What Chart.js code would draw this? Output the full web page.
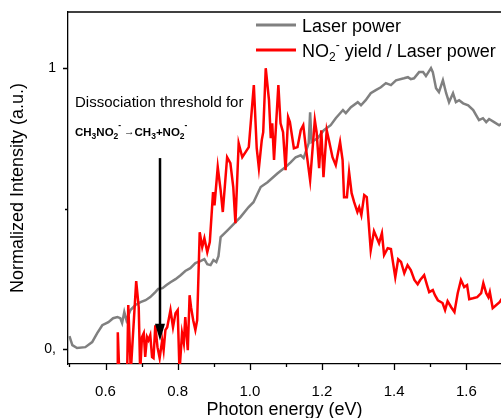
<!DOCTYPE html>
<html>
<head>
<meta charset="utf-8">
<script src="https://cdn.jsdelivr.net/npm/chart.js@4"></script>
<style>
  html, body { margin: 0; padding: 0; background: #fff; }
  canvas { display: block; }
</style>
</head>
<body>
<canvas id="chart" width="501" height="418"></canvas>
<script>
// Laser power (grey)
const laserEnergy = [0.500,0.508,0.521,0.544,0.563,0.577,0.591,0.608,0.621,0.633,
  0.641,0.646,0.652,0.658,0.669,0.683,0.697,0.711,0.724,0.738,
  0.746,0.758,0.769,0.780,0.794,0.808,0.821,0.835,0.849,0.863,
  0.874,0.882,0.891,0.899,0.907,0.913,0.919,0.938,0.955,0.974,
  0.996,1.010,1.030,1.049,1.077,1.099,1.113,1.127,1.141,1.149,
  1.163,1.167,1.171,1.188,1.205,1.224,1.238,1.258,1.266,1.280,
  1.299,1.308,1.321,1.335,1.349,1.363,1.377,1.391,1.405,1.427,
  1.438,1.446,1.455,1.469,1.480,1.488,1.502,1.507,1.516,1.524,
  1.535,1.544,1.552,1.563,1.571,1.580,1.591,1.605,1.619,1.627,
  1.635,1.646,1.655,1.663,1.677,1.691,1.699];
const laserPower = [0.046,0.014,0.004,0.007,0.025,0.057,0.085,0.096,0.110,0.114,
  0.110,0.093,0.132,0.103,0.139,0.157,0.167,0.174,0.185,0.203,
  0.214,0.217,0.228,0.238,0.249,0.263,0.278,0.288,0.306,0.313,
  0.320,0.302,0.299,0.317,0.310,0.331,0.399,0.423,0.445,0.470,
  0.505,0.523,0.577,0.594,0.626,0.648,0.665,0.683,0.690,0.680,
  0.733,0.843,0.737,0.751,0.779,0.797,0.822,0.851,0.840,0.861,
  0.879,0.868,0.886,0.911,0.922,0.932,0.947,0.940,0.957,0.964,
  0.968,0.961,0.964,0.986,0.986,0.972,1.000,0.986,0.929,0.915,
  0.957,0.911,0.879,0.911,0.879,0.886,0.875,0.868,0.851,0.833,
  0.815,0.822,0.808,0.819,0.808,0.797,0.804];

// NO2- yield / laser power (red)
const yieldEnergy = [0.632,0.634,0.638,0.660,0.663,0.670,0.685,0.692,0.696,0.701,
  0.706,0.710,0.715,0.719,0.724,0.729,0.733,0.738,0.744,0.750,
  0.757,0.761,0.766,0.771,0.780,0.787,0.794,0.800,0.805,0.812,
  0.817,0.821,0.828,0.833,0.837,0.843,0.849,0.854,0.861,0.868,
  0.874,0.882,0.889,0.898,0.902,0.911,0.919,0.925,0.937,0.946,
  0.954,0.960,0.969,0.979,0.997,1.011,1.019,1.025,1.033,1.037,
  1.044,1.053,1.058,1.062,1.067,1.079,1.085,1.092,1.099,1.106,
  1.111,1.122,1.132,1.141,1.148,1.155,1.167,1.180,1.185,1.192,
  1.198,1.204,1.213,1.219,1.229,1.238,1.250,1.257,1.261,1.269,
  1.275,1.282,1.289,1.298,1.303,1.309,1.317,1.324,1.335,1.344,
  1.358,1.366,1.372,1.382,1.391,1.403,1.411,1.419,1.428,1.437,
  1.446,1.456,1.465,1.472,1.483,1.491,1.497,1.507,1.513,1.521,
  1.534,1.541,1.548,1.558,1.567,1.576,1.585,1.594,1.602,1.608,
  1.618,1.630,1.641,1.647,1.655,1.661,1.665,1.673,1.683,1.692,
  1.699];
const yieldRatio = [-0.08,0.060,-0.08,-0.08,0.157,-0.08,0.242,0.149,-0.08,0.043,
  0.057,-0.028,0.043,0.032,0.050,-0.028,-0.032,0.085,0.007,-0.032,
  0.032,-0.004,0.068,0.078,0.139,0.078,0.128,0.139,-0.08,0.057,
  0.021,0.114,-0.004,0.192,0.149,0.103,0.068,0.103,0.416,0.363,
  0.395,0.345,0.381,0.559,0.512,0.648,0.566,0.488,0.683,0.662,
  0.577,0.448,0.733,0.683,0.719,0.940,0.715,0.644,0.744,0.772,
  1.000,0.886,0.751,0.804,0.673,0.940,0.804,0.772,0.637,0.826,
  0.808,0.715,0.719,0.779,0.797,0.719,0.601,0.815,0.772,0.644,
  0.779,0.612,0.779,0.744,0.683,0.655,0.737,0.673,0.541,0.541,
  0.630,0.555,0.523,0.488,0.505,0.477,0.548,0.541,0.352,0.420,
  0.377,0.413,0.335,0.359,0.356,0.256,0.320,0.310,0.270,0.299,
  0.281,0.246,0.231,0.246,0.263,0.228,0.203,0.210,0.192,0.174,
  0.164,0.139,0.171,0.149,0.132,0.199,0.246,0.221,0.228,0.178,
  0.181,0.185,0.199,0.235,0.199,0.185,0.203,0.146,0.157,0.167,
  0.181];

const xMajorTicks = [0.6, 0.8, 1.0, 1.2, 1.4, 1.6];
const xMinorTicks = [0.5, 0.7, 0.9, 1.1, 1.3, 1.5, 1.7];
const yMajorTicks = [0, 1];
const yMinorTicks = [0.5];
const yTickLabels = ["0,", "1"];

// threshold arrow (eV, and intensity from/to)
const thresholdEnergy = 0.75;
const arrowFrom = 0.68;
const arrowTo = 0.03;

const FONT = "'Liberation Sans', Arial, sans-serif";
const GREY = "#808080";
const RED = "#ff0000";

function toPoints(xs, ys) {
  return xs.map((x, i) => ({ x: x, y: ys[i] }));
}

function drawRuns(ctx, runs, x, baseline) {
  runs.forEach(r => {
    ctx.font = r.font;
    ctx.fillText(r.text, x, baseline + (r.dy || 0));
    x += ctx.measureText(r.text).width;
  });
}

const decorations = {
  id: "decorations",
  afterDraw(chart) {
    const ctx = chart.ctx;
    const area = chart.chartArea;
    const xs = chart.scales.x;
    const ys = chart.scales.y;

    ctx.save();
    ctx.strokeStyle = "#000";
    ctx.fillStyle = "#000";
    ctx.lineWidth = 1.3;

    // top frame line
    ctx.beginPath();
    ctx.moveTo(area.left, area.top);
    ctx.lineTo(area.right, area.top);
    ctx.stroke();

    // tick marks, pointing out
    ctx.beginPath();
    xMajorTicks.forEach(v => {
      const px = Math.round(xs.getPixelForValue(v)) + 0.5;
      ctx.moveTo(px, area.bottom); ctx.lineTo(px, area.bottom + 6);
    });
    xMinorTicks.forEach(v => {
      const px = Math.round(xs.getPixelForValue(v)) + 0.5;
      ctx.moveTo(px, area.bottom); ctx.lineTo(px, area.bottom + 3);
    });
    yMajorTicks.forEach(v => {
      const py = Math.round(ys.getPixelForValue(v)) + 0.5;
      ctx.moveTo(area.left, py); ctx.lineTo(area.left - 5, py);
    });
    yMinorTicks.forEach(v => {
      const py = Math.round(ys.getPixelForValue(v)) + 0.5;
      ctx.moveTo(area.left, py); ctx.lineTo(area.left - 3, py);
    });
    ctx.stroke();

    // legend
    ctx.lineWidth = 3;
    ctx.strokeStyle = GREY;
    ctx.beginPath(); ctx.moveTo(256, 25); ctx.lineTo(296, 25); ctx.stroke();
    ctx.strokeStyle = RED;
    ctx.beginPath(); ctx.moveTo(256, 50); ctx.lineTo(296, 50); ctx.stroke();

    ctx.fillStyle = "#000";
    ctx.textBaseline = "alphabetic";
    ctx.textAlign = "left";
    ctx.font = "18px " + FONT;
    ctx.fillText("Laser power", 302, 31.5);
    drawRuns(ctx, [
      { text: "NO", font: "18px " + FONT },
      { text: "2", font: "12px " + FONT, dy: 4 },
      { text: "-", font: "12px " + FONT, dy: -8 },
      { text: " yield / Laser power", font: "18px " + FONT }
    ], 302, 57);

    // annotation
    ctx.font = "15px " + FONT;
    ctx.fillText("Dissociation threshold for", 75, 106.5);
    const b = "bold 11.5px " + FONT;
    const s = "bold 8.5px " + FONT;
    drawRuns(ctx, [
      { text: "CH", font: b },
      { text: "3", font: s, dy: 3 },
      { text: "NO", font: b },
      { text: "2", font: s, dy: 3 },
      { text: "-", font: s, dy: -8 },
      { text: " \u2192", font: "10.5px " + FONT, dy: -1 },
      { text: "CH", font: b },
      { text: "3", font: s, dy: 3 },
      { text: "+NO", font: b },
      { text: "2", font: s, dy: 3 },
      { text: "-", font: s, dy: -8 }
    ], 75, 136);

    // arrow
    const ax = Math.round(xs.getPixelForValue(thresholdEnergy));
    const y0 = ys.getPixelForValue(arrowFrom);
    const y1 = ys.getPixelForValue(arrowTo);
    ctx.strokeStyle = "#000";
    ctx.lineWidth = 2.5;
    ctx.beginPath(); ctx.moveTo(ax, y0); ctx.lineTo(ax, y1 - 14); ctx.stroke();
    ctx.beginPath();
    ctx.moveTo(ax - 5, y1 - 17);
    ctx.lineTo(ax + 5, y1 - 17);
    ctx.lineTo(ax, y1);
    ctx.closePath();
    ctx.fill();

    ctx.restore();
  }
};

Chart.defaults.font.family = FONT;
Chart.defaults.color = "#000";

new Chart(document.getElementById("chart"), {
  type: "line",
  data: {
    datasets: [
      {
        label: "NO2- yield / Laser power",
        data: toPoints(yieldEnergy, yieldRatio),
        borderColor: RED,
        borderWidth: 2.5,
        pointRadius: 0,
        tension: 0,
        order: 0
      },
      {
        label: "Laser power",
        data: toPoints(laserEnergy, laserPower),
        borderColor: GREY,
        borderWidth: 2.5,
        pointRadius: 0,
        tension: 0,
        order: 1
      }
    ]
  },
  options: {
    responsive: false,
    animation: false,
    devicePixelRatio: 1,
    layout: { padding: { top: 12, right: 0, bottom: 0, left: 0 } },
    plugins: {
      legend: { display: false },
      tooltip: { enabled: false }
    },
    scales: {
      x: {
        type: "linear",
        min: 0.496,
        max: 1.696,
        afterBuildTicks: (scale) => { scale.ticks = xMajorTicks.map(v => ({ value: v })); },
        afterFit: (scale) => { scale.height = 54; scale.paddingLeft = 0; scale.paddingRight = 0; },
        grid: { display: false },
        border: { display: true, color: "#000", width: 1.3 },
        ticks: {
          font: { size: 15 },
          padding: 11,
          maxRotation: 0,
          autoSkip: false,
          callback: (v) => Number(v).toFixed(1)
        },
        title: {
          display: true,
          text: "Photon energy (eV)",
          font: { size: 18 },
          padding: { top: 0, bottom: -3 }
        }
      },
      y: {
        min: -0.053,
        max: 1.2,
        afterBuildTicks: (scale) => { scale.ticks = yMajorTicks.map(v => ({ value: v })); },
        afterFit: (scale) => { scale.width = 68; scale.paddingTop = 0; scale.paddingBottom = 0; },
        grid: { display: false },
        border: { display: true, color: "#000", width: 1.3 },
        ticks: {
          font: { size: 14 },
          padding: 4,
          autoSkip: false,
          callback: (v) => yTickLabels[yMajorTicks.indexOf(v)]
        },
        title: {
          display: true,
          text: "Normalized Intensity (a.u.)",
          font: { size: 18 },
          padding: { top: 7, bottom: 0 }
        }
      }
    }
  },
  plugins: [decorations]
});
</script>
</body>
</html>
